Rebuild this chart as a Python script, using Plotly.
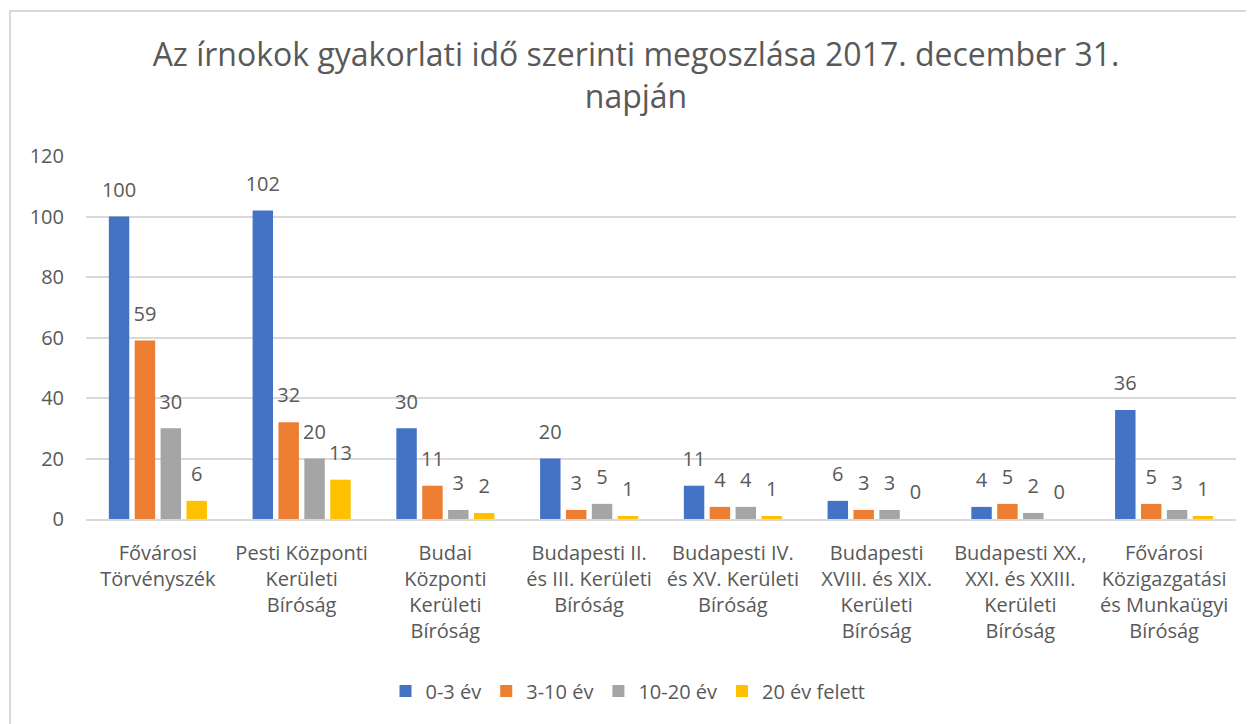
import plotly.graph_objects as go

categories = [
    "Fővárosi<br>Törvényszék",
    "Pesti Központi<br>Kerületi<br>Bíróság",
    "Budai<br>Központi<br>Kerületi<br>Bíróság",
    "Budapesti II.<br>és III. Kerületi<br>Bíróság",
    "Budapesti IV.<br>és XV. Kerületi<br>Bíróság",
    "Budapesti<br>XVIII. és XIX.<br>Kerületi<br>Bíróság",
    "Budapesti XX.,<br>XXI. és XXIII.<br>Kerületi<br>Bíróság",
    "Fővárosi<br>Közigazgatási<br>és Munkaügyi<br>Bíróság",
]
series_names = ["0-3 év", "3-10 év", "10-20 év", "20 év felett"]
v_0_3 = [100, 102, 30, 20, 11, 6, 4, 36]
v_3_10 = [59, 32, 11, 3, 4, 3, 5, 5]
v_10_20 = [30, 20, 3, 5, 4, 3, 2, 3]
v_20_plus = [6, 13, 2, 1, 1, 0, 0, 1]
y_ticks = [0, 20, 40, 60, 80, 100, 120]

colors = ["#4472C4", "#ED7D31", "#A5A5A5", "#FFC000"]
series_values = [v_0_3, v_3_10, v_10_20, v_20_plus]
FONT = "Open Sans"
TXT = "#595959"
BARGAP = 0.28

fig = go.Figure()
for i, (name, vals, col) in enumerate(zip(series_names, series_values, colors)):
    fig.add_trace(go.Bar(
        x=categories, y=vals, name=name,
        marker=dict(color=col, line=dict(width=0)),
        offsetgroup=str(i),
    ))
for i, vals in enumerate(series_values):
    fig.add_trace(go.Scatter(
        x=categories, y=vals, mode="markers+text",
        text=[str(v) for v in vals], textposition="top center",
        textfont=dict(family=FONT, size=20, color=TXT),
        marker=dict(size=22, color="rgba(0,0,0,0)"),
        offsetgroup=str(i), showlegend=False, hoverinfo="skip",
        cliponaxis=False,
    ))

# page body margin shifts the figure by 8px
OFF = 8
W, H = 1254, 724
L, T = 86 - OFF, 156 - OFF
R = W - (1236 - OFF)
B = H - (519 - OFF)
pw, ph = W - L - R, H - T - B

def px_x(px):
    return (px - OFF - L) / pw

def px_y(py):
    return (H - B - (py - OFF)) / ph

fig.update_layout(
    width=W, height=H,
    margin=dict(l=L, r=R, t=T, b=B),
    paper_bgcolor="white", plot_bgcolor="white",
    barmode="group", bargap=BARGAP, bargroupgap=0.21,
    scattermode="group", scattergap=BARGAP,
    font=dict(family=FONT, color=TXT, size=20),
    title=dict(
        text="Az írnokok gyakorlati idő szerinti megoszlása 2017. december 31.<br>napján",
        font=dict(family=FONT, size=32, color=TXT),
        x=(636 - OFF) / W, xref="container", xanchor="center",
        y=1 - 58 / H, yref="container", yanchor="top",
    ),
    legend=dict(
        orientation="h", x=px_x(628), xanchor="center",
        y=px_y(691), yanchor="middle",
        font=dict(family=FONT, size=20, color=TXT),
        traceorder="normal",
    ),
    yaxis=dict(
        range=[0, 120], tickvals=y_ticks, showgrid=True,
        gridcolor="#D9D9D9", gridwidth=1.5, zeroline=False,
        showline=False, ticks="", ticklabelstandoff=21,
        tickfont=dict(family=FONT, size=20, color=TXT),
    ),
    xaxis=dict(
        showline=True, linecolor="#D9D9D9", linewidth=1.5,
        ticks="", tickangle=0, ticklabelstandoff=15,
        tickfont=dict(family=FONT, size=20, color=TXT),
    ),
    shapes=[dict(
        type="rect", xref="paper", yref="paper",
        x0=px_x(10), x1=px_x(1300), y0=px_y(800), y1=px_y(11),
        line=dict(color="#D9D9D9", width=2), fillcolor="rgba(0,0,0,0)",
        layer="below",
    )],
)

fig.write_html("out.html")
